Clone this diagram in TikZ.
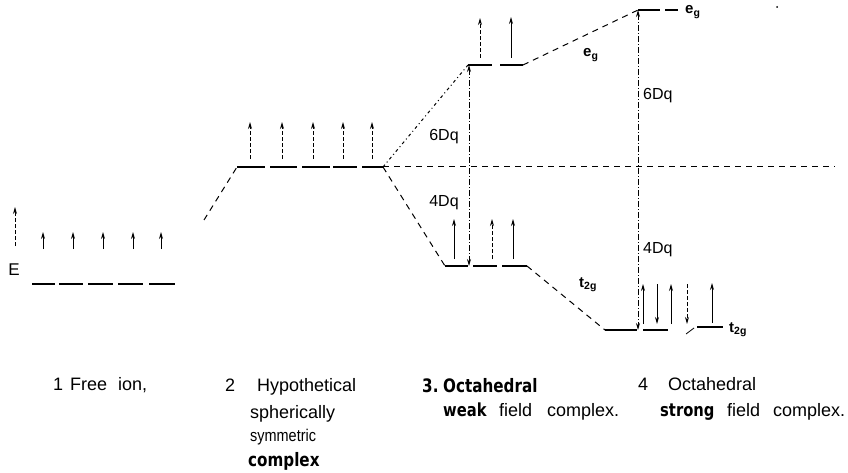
\documentclass[tikz,border=0pt]{standalone}
\usepackage{fontspec}
\setmainfont{Liberation Sans}
\newfontfamily\altfont{DejaVu Sans}[FakeStretch=0.82]
\newfontfamily\narrowfont{Liberation Sans}[FakeStretch=0.85]
\usetikzlibrary{arrows.meta}
\begin{document}
\begin{tikzpicture}[x=1pt,y=-1pt,
  level/.style={line width=2.8pt},
  conn/.style={line width=1pt,dash pattern=on 6pt off 5pt},
  dotconn/.style={line width=1pt,dash pattern=on 3pt off 3pt on 1pt off 3pt},
  span/.style={line width=0.9pt,dash pattern=on 6pt off 2pt on 1pt off 2pt,{Stealth[length=7pt,width=4pt]}-{Stealth[length=7pt,width=4pt]}},
  elec/.style={line width=0.9pt,-{Stealth[length=7pt,width=4pt]}},
  elecd/.style={elec,dash pattern=on 4pt off 2pt},
  lab/.style={font=\fontsize{16}{18}\selectfont,inner sep=0pt},
  sublab/.style={font=\bfseries\fontsize{15}{17}\selectfont,inner sep=0pt,anchor=west},
  txt/.style={font=\fontsize{18}{21}\selectfont,inner sep=0pt,anchor=base west},
  alt/.style={font=\altfont\bfseries\fontsize{18.5}{21}\selectfont,inner sep=0pt,anchor=base west}
]
\useasboundingbox (0,0) rectangle (848,473);

% key coordinates
\coordinate (s1) at (204,220);
\coordinate (c2L) at (237,167);
\coordinate (v) at (383,167);
\coordinate (hR) at (835,167);
\coordinate (eg3L) at (468,65);
\coordinate (eg3R) at (523,65);
\coordinate (t3L) at (445,266);
\coordinate (t3R) at (527,266);
\coordinate (eg4L) at (638,10);
\coordinate (t4L) at (605,330);
\coordinate (t4B) at (638,330);
\coordinate (t3B) at (469,266);
\coordinate (eg3B) at (469,65);

% column 1: free ion
\foreach \a/\b in {32/55,59/83,88/113,118/143,149/175}
  \draw[level] (\a,284) -- (\b,284);
\foreach \x in {43,73,103,133,161}
  \draw[elec] (\x,249) -- (\x,232);
\coordinate (E0) at (15,246);
\coordinate (E1) at (15,207);
\draw[elec,dash pattern=on 4pt off 2pt] (E0) -- (E1);
\node[lab,font=\fontsize{17}{19}\selectfont] (E) at (14,270) {E};

% column 2: spherical
\draw[conn] (s1) -- (c2L);
\foreach \a/\b in {237/265,270/297,302/330,333/357,362/383}
  \draw[level] (\a,167) -- (\b,167);
\foreach \x in {250,282,313,343,372}
  \draw[elecd] (\x,159) -- (\x,122);

% connectors
\draw[dotconn] (v) -- (eg3L);
\draw[conn] (v) -- (t3L);
\draw[conn] (v) -- (hR);
\draw[conn] (eg3R) -- (eg4L);
\draw[conn] (t3R) -- (t4L);

% column 3: weak field
\draw[level] (468,65) -- (492,65);
\draw[level] (500,65) -- (523,65);
\draw[level] (445,266) -- (468,266);
\draw[level] (473,266) -- (497,266);
\draw[level] (502,266) -- (527,266);
\draw[span] (eg3B) -- (t3B);
\draw[elecd] (480,58) -- (480,18);
\draw[elec] (511,58) -- (511,17);
\draw[elec] (454,259) -- (454,219);
\draw[elecd] (492,259) -- (492,219);
\draw[elec] (513,259) -- (513,219);
\node[lab] (d6a) at (444,137) {6Dq};
\node[lab] (d4a) at (444,203) {4Dq};
\node[sublab] (eg3) at (583,55) {e\textsubscript{g}};
\node[sublab] (t3) at (579,285) {t\textsubscript{2g}};

% column 4: strong field
\draw[level] (638,10) -- (660,10);
\draw[level] (665,10) -- (678,10);
\draw[level] (605,330) -- (637,330);
\draw[level] (643,330) -- (668,330);
\draw[level] (697,327) -- (723,327);
\draw[line width=0.8pt] (686,334) -- (694,328);
\draw[span] (eg4L) -- (t4B);
\draw[elec] (643,324) -- (643,284);
\draw[elec] (657,284) -- (657,324);
\draw[elec] (671,324) -- (671,284);
\draw[elecd] (687,284) -- (687,324);
\draw[elec] (712,323) -- (712,283);
\node[lab,anchor=west] (d6b) at (643,96) {6Dq};
\node[lab,anchor=west] (d4b) at (643,250) {4Dq};
\node[sublab] (eg4) at (685,12) {e\textsubscript{g}};
\node[sublab] (t4) at (729,330) {t\textsubscript{2g}};
\fill (777,7) circle (1pt);

% captions
\node[txt] (c1) at (53,390) {\makebox[17pt][l]{1}\makebox[48pt][l]{Free}ion,};
\node[txt] (c2a) at (225,391) {\makebox[32pt][l]{2}Hypothetical};
\node[txt] (c2b) at (250,418) {spherically};
\node[txt,font=\narrowfont\fontsize{17}{19}\selectfont] (c2c) at (250,441) {symmetric};
\node[alt] (c2d) at (248,466) {complex};
\node[alt] (c3a) at (422,392) {\makebox[21pt][l]{3.}Octahedral};
\node[txt] (c3b) at (443,416) {\makebox[56pt][l]{\altfont\bfseries weak}\makebox[48pt][l]{field}complex.};
\node[txt] (c4a) at (638,390) {\makebox[30pt][l]{4}Octahedral};
\node[txt] (c4b) at (660,416) {\makebox[67pt][l]{\altfont\bfseries strong}\makebox[46pt][l]{field}complex.};
\end{tikzpicture}
\end{document}
